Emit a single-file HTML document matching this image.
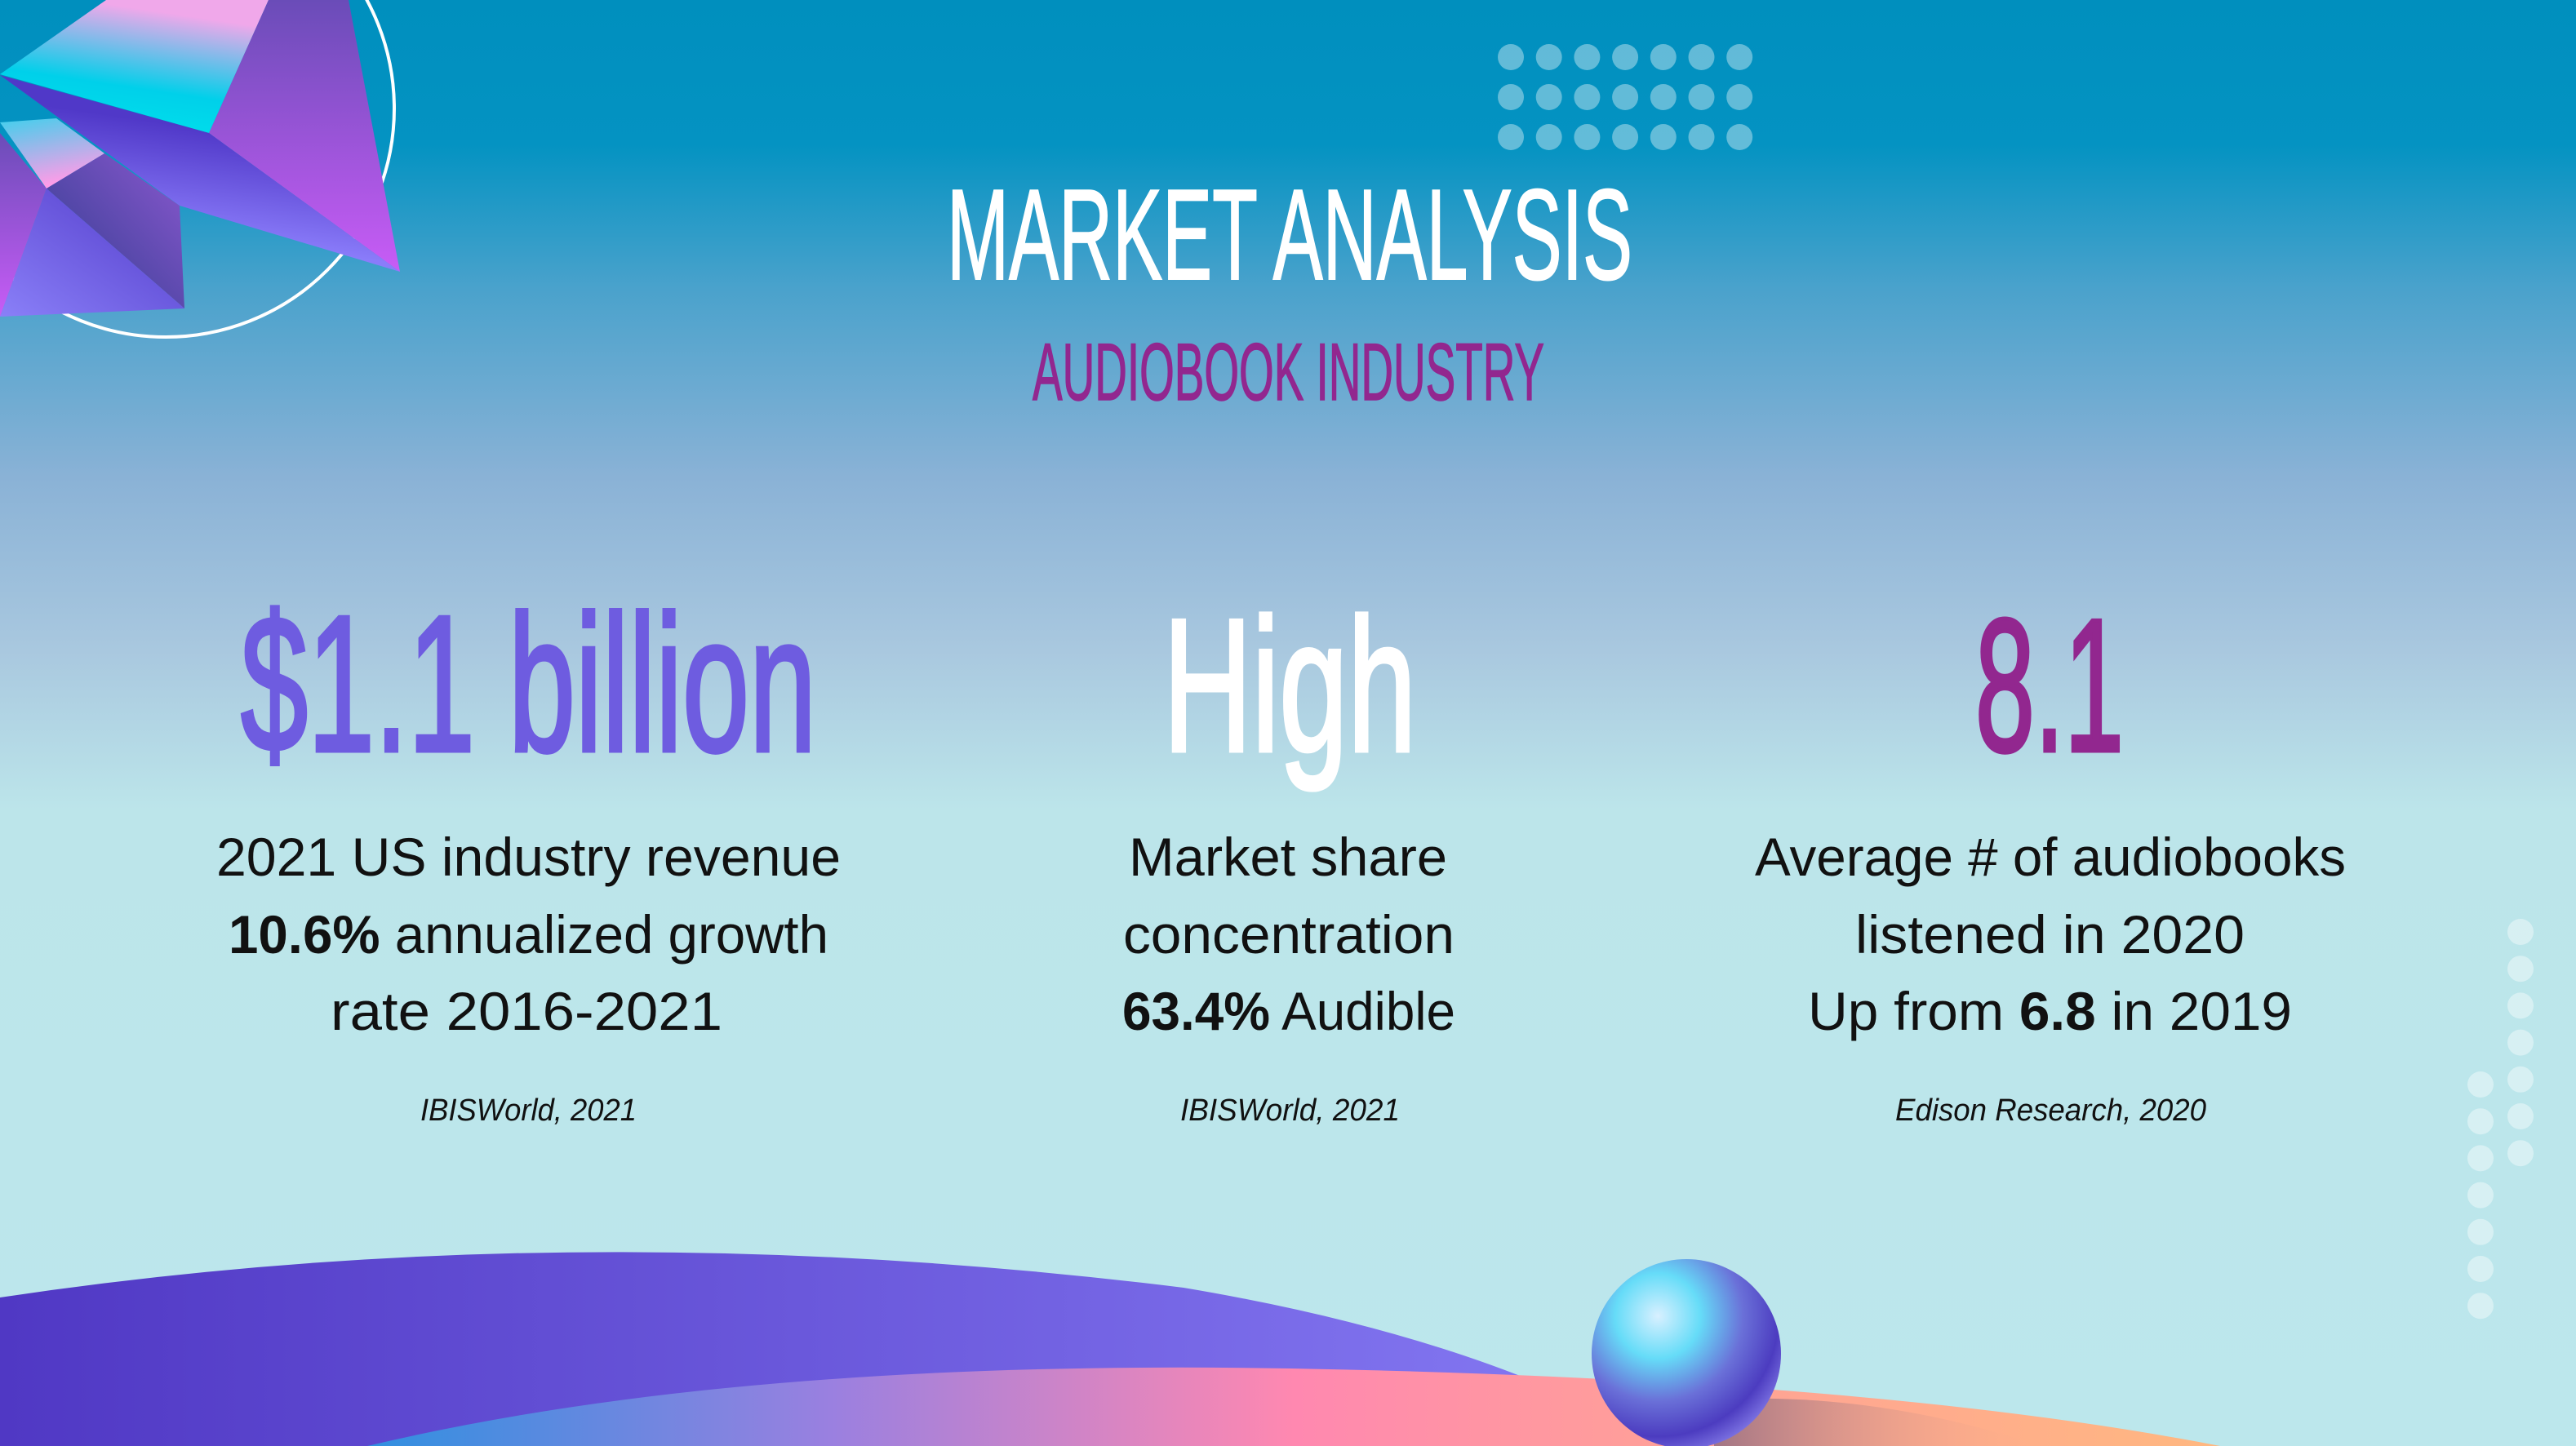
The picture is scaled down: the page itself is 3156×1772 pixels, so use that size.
<!DOCTYPE html>
<html><head><meta charset="utf-8"><style>
html,body{margin:0;padding:0;width:3156px;height:1772px;overflow:hidden}
svg{display:block}
text{font-family:"Liberation Sans",sans-serif}
</style></head><body>
<svg width="3156" height="1772" viewBox="0 0 3156 1772">
<defs>
<linearGradient id="bg" x1="0" y1="0" x2="0" y2="1772" gradientUnits="userSpaceOnUse">
<stop offset="0" stop-color="#008fbe"/><stop offset="0.1" stop-color="#0493c2"/>
<stop offset="0.2" stop-color="#4aa2cc"/><stop offset="0.33" stop-color="#8ab2d6"/>
<stop offset="0.45" stop-color="#a9c8df"/><stop offset="0.56" stop-color="#bce5ea"/><stop offset="1" stop-color="#bce7ec"/>
</linearGradient>
<linearGradient id="purp" x1="0" y1="0" x2="1960" y2="0" gradientUnits="userSpaceOnUse">
<stop offset="0" stop-color="#5038c4"/><stop offset="1" stop-color="#8478f2"/></linearGradient>
<linearGradient id="pink" x1="450" y1="0" x2="2720" y2="0" gradientUnits="userSpaceOnUse">
<stop offset="0" stop-color="#3090e0"/><stop offset="0.25" stop-color="#9a80e0"/><stop offset="0.5" stop-color="#ff88b0"/><stop offset="0.7" stop-color="#ffa098"/><stop offset="1" stop-color="#ffb880"/></linearGradient>
<linearGradient id="shadow" x1="2100" y1="0" x2="2500" y2="0" gradientUnits="userSpaceOnUse">
<stop offset="0" stop-color="#8a6a80" stop-opacity="0.8"/><stop offset="1" stop-color="#ffb090" stop-opacity="0"/></linearGradient>
<radialGradient id="sph" cx="0.35" cy="0.3" r="0.75">
<stop offset="0" stop-color="#d8f0ff"/><stop offset="0.3" stop-color="#66dcf8"/><stop offset="0.6" stop-color="#6a70d8"/><stop offset="0.85" stop-color="#4c3cc0"/><stop offset="1" stop-color="#7a70e0"/></radialGradient>
<linearGradient id="tri1" x1="0" y1="0" x2="0" y2="1"><stop offset="0" stop-color="#6a4cb8"/><stop offset="1" stop-color="#c85cf6"/></linearGradient>
<linearGradient id="cyan" x1="0" y1="1" x2="0.3" y2="0"><stop offset="0" stop-color="#00e6ec"/><stop offset="0.45" stop-color="#00d0ea"/><stop offset="1" stop-color="#f0a8ea"/></linearGradient>
<linearGradient id="band" x1="0.6" y1="0.3" x2="0.45" y2="0.8"><stop offset="0" stop-color="#5038c8"/><stop offset="1" stop-color="#8a7cfa"/></linearGradient>
<linearGradient id="slate" x1="0" y1="1" x2="1" y2="0"><stop offset="0" stop-color="#2c3c8c"/><stop offset="1" stop-color="#8c58d0"/></linearGradient>
<linearGradient id="low" x1="1" y1="0" x2="0" y2="1"><stop offset="0" stop-color="#5038c8"/><stop offset="1" stop-color="#8a80f8"/></linearGradient>
<linearGradient id="cp" x1="0" y1="0" x2="0.3" y2="1"><stop offset="0" stop-color="#40d0ec"/><stop offset="1" stop-color="#ff9ce8"/></linearGradient>
</defs>
<rect width="3156" height="1772" fill="url(#bg)"/>

<g>
<ellipse cx="203" cy="133" rx="280" ry="280" fill="none" stroke="#fff" stroke-width="4"/>
<polygon points="0,163 57,231 0,388" fill="url(#tri1)"/>
<polygon points="0,150 69,145 128,188 57,231" fill="url(#cp)"/>
<polygon points="57,231 128,188 220,252 226,378" fill="url(#slate)"/>
<polygon points="57,231 226,378 0,388" fill="url(#low)"/>
<polygon points="130,0 329,0 256,163 0,91" fill="url(#cyan)"/>
<polygon points="329,0 427,0 490,333 256,163" fill="url(#tri1)"/>
<polygon points="0,92 256,163 490,333 220,252" fill="url(#band)"/>
</g>

<g id="topdots" fill="#ffffff" fill-opacity="0.38"></g>
<g id="rightdots" fill="#ffffff" fill-opacity="0.4"></g>

<g>
<path d="M0,1590 Q700,1485 1450,1578 Q1820,1640 2040,1772 L0,1772 Z" fill="url(#purp)"/>
<path d="M450,1772 Q900,1665 1580,1677 Q2300,1690 2720,1772 Z" fill="url(#pink)"/>
<path d="M2100,1715 Q2300,1705 2500,1772 L2100,1772 Z" fill="url(#shadow)"/>
<circle cx="2066" cy="1659" r="116" fill="url(#sph)"/>
</g>

<text x="1160" y="342" font-size="158" fill="#ffffff" stroke="#ffffff" stroke-width="2" textLength="840" lengthAdjust="spacingAndGlyphs">MARKET ANALYSIS</text>
<text x="1265" y="490" font-size="99" fill="#92278f" stroke="#92278f" stroke-width="1.5" textLength="627" lengthAdjust="spacingAndGlyphs">AUDIOBOOK INDUSTRY</text>

<text x="295" y="920" font-size="238" fill="#6e5ce0" stroke="#6e5ce0" stroke-width="5" textLength="705" lengthAdjust="spacingAndGlyphs">$1.1 billion</text>
<text x="1425" y="920" font-size="232" fill="#ffffff" stroke="#ffffff" stroke-width="5" textLength="310" lengthAdjust="spacingAndGlyphs">High</text>
<text x="2420" y="920" font-size="232" fill="#92278f" stroke="#92278f" stroke-width="5" textLength="182" lengthAdjust="spacingAndGlyphs">8.1</text>

<g font-size="66" fill="#111">
<text x="265" y="1073" textLength="765" lengthAdjust="spacingAndGlyphs">2021 US industry revenue</text>
<text x="280" y="1168" textLength="735" lengthAdjust="spacingAndGlyphs"><tspan font-weight="bold">10.6%</tspan> annualized growth</text>
<text x="405" y="1262" textLength="480" lengthAdjust="spacingAndGlyphs">rate 2016-2021</text>
</g>
<g font-size="66" fill="#111">
<text x="1383" y="1073" textLength="390" lengthAdjust="spacingAndGlyphs">Market share</text>
<text x="1376" y="1168" textLength="406" lengthAdjust="spacingAndGlyphs">concentration</text>
<text x="1375" y="1262" textLength="408" lengthAdjust="spacingAndGlyphs"><tspan font-weight="bold">63.4%</tspan> Audible</text>
</g>
<g font-size="66" fill="#111">
<text x="2150" y="1073" textLength="724" lengthAdjust="spacingAndGlyphs">Average # of audiobooks</text>
<text x="2273" y="1168" textLength="477" lengthAdjust="spacingAndGlyphs">listened in 2020</text>
<text x="2215" y="1262" textLength="593" lengthAdjust="spacingAndGlyphs">Up from <tspan font-weight="bold">6.8</tspan> in 2019</text>
</g>
<g font-size="38" font-style="italic" fill="#111">
<text x="515" y="1373" textLength="265" lengthAdjust="spacingAndGlyphs">IBISWorld, 2021</text>
<text x="1446" y="1373" textLength="269" lengthAdjust="spacingAndGlyphs">IBISWorld, 2021</text>
<text x="2322" y="1373" textLength="381" lengthAdjust="spacingAndGlyphs">Edison Research, 2020</text>
</g>
</svg>
<script>
var NS='http://www.w3.org/2000/svg';
var td=document.getElementById('topdots');
for(var r=0;r<3;r++)for(var c=0;c<7;c++){
var d=document.createElementNS(NS,'circle');
d.setAttribute('cx',1851+c*46.7);d.setAttribute('cy',70+r*49);d.setAttribute('r',16);


td.appendChild(d);}
var rd=document.getElementById('rightdots');
for(var i=0;i<7;i++){
var a=document.createElementNS(NS,'circle');
a.setAttribute('cx',3088);a.setAttribute('cy',1142+i*45.2);a.setAttribute('r',16);


rd.appendChild(a);
var b=document.createElementNS(NS,'circle');
b.setAttribute('cx',3039);b.setAttribute('cy',1329+i*45.2);b.setAttribute('r',16);


rd.appendChild(b);}
</script>
</body></html>
